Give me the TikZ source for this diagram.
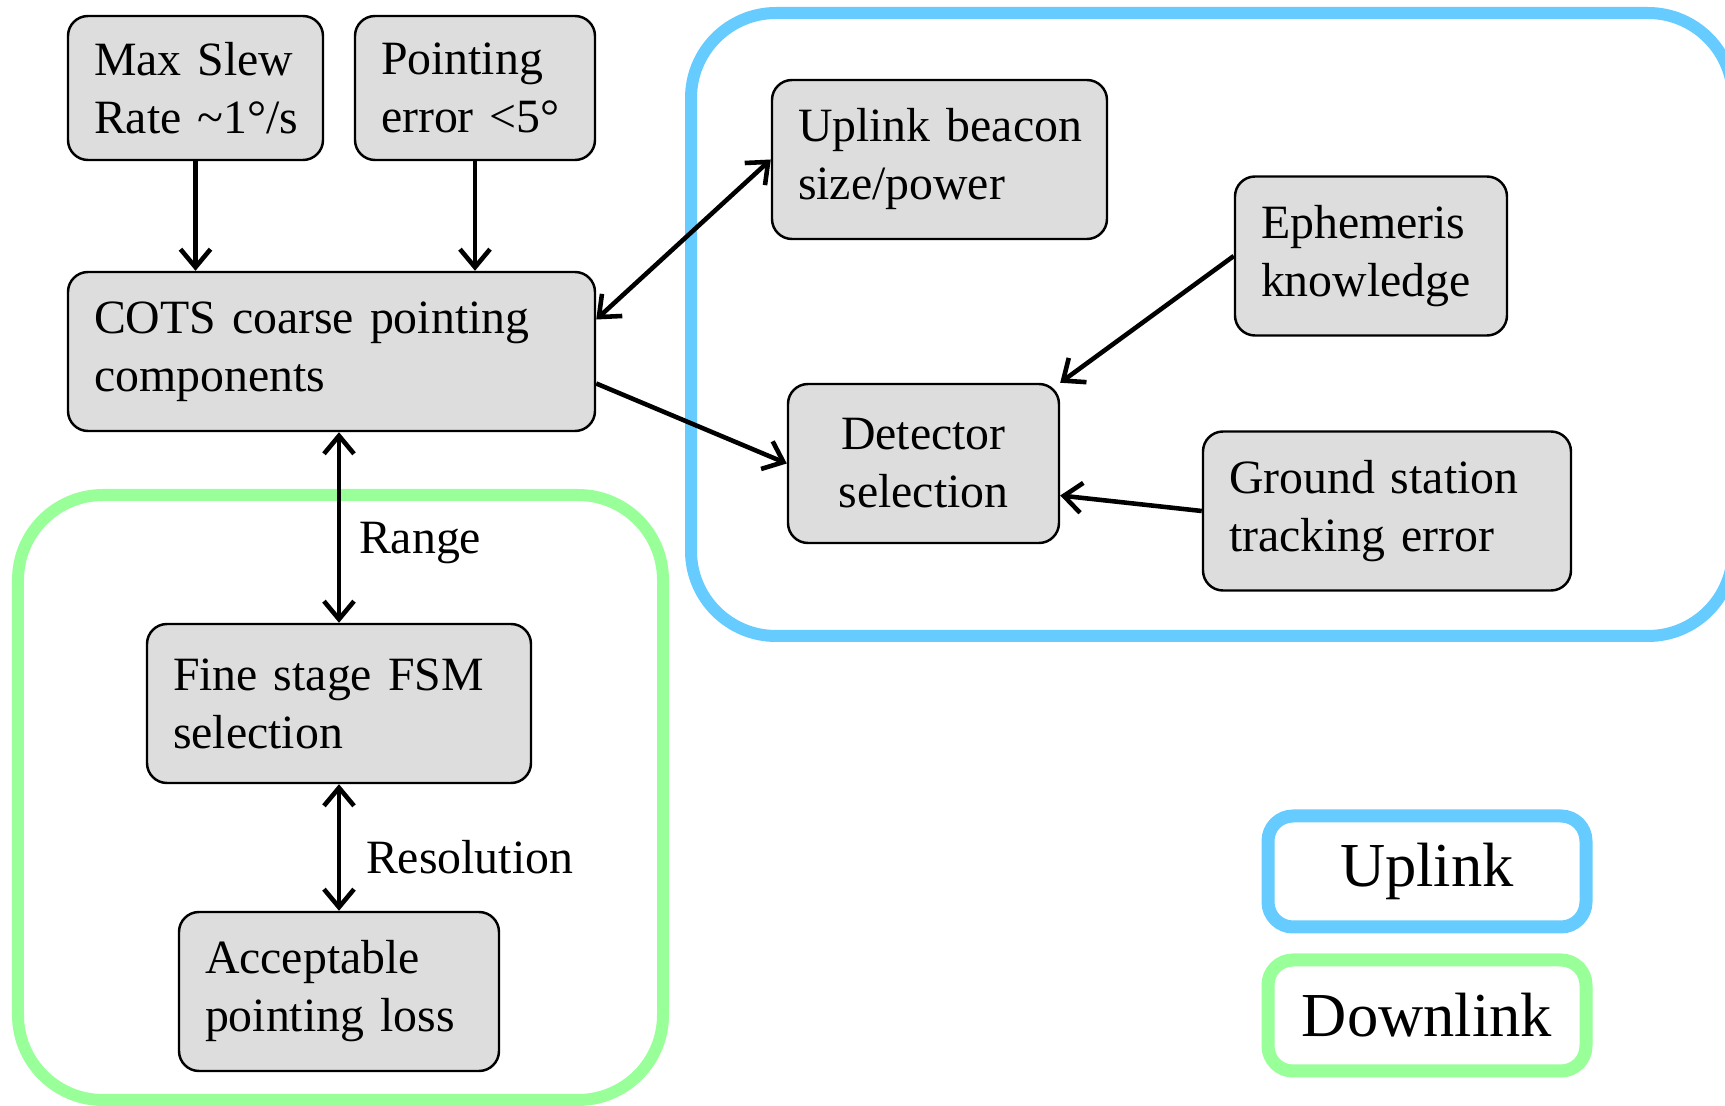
\documentclass[tikz,border=0pt]{standalone}
\usepackage{fontspec}
\setmainfont{Liberation Serif}
\usetikzlibrary{arrows.meta, positioning, calc}

\definecolor{boxgray}{HTML}{DDDDDD}
\definecolor{upblue}{HTML}{66CCFF}
\definecolor{downgreen}{HTML}{99FF99}

\begin{document}
\begin{tikzpicture}[
    >={Straight Barb[length=0.18cm, width=0.3cm]},
    blk/.style={draw, rounded corners=0.2cm, fill=boxgray, line width=0.7pt, inner xsep=0.26cm, align=left, minimum height=1.59cm, font=\fontsize{13.6}{16.5}\selectfont},
    zone/.style={rounded corners=0.85cm, line width=0.12cm},
    key/.style={draw, rounded corners=0.25cm, line width=0.13cm, fill=white, minimum width=3.18cm, minimum height=1.11cm, font=\fontsize{17.8}{20}\selectfont},
    link/.style={line width=1.3pt},
    lbl/.style={font=\fontsize{13.6}{16.5}\selectfont}
  ]
  \useasboundingbox (0,0) rectangle (17.25,-11.06);

  % uplink / downlink areas
  \draw[zone, upblue] (6.91,-0.13) rectangle (17.33,-6.36);
  \draw[zone, downgreen] (0.18,-4.95) rectangle (6.63,-11.0);

  \node[blk, text width=2.03cm, minimum height=1.44cm] (slew) at (1.955,-0.88) {Max~Slew\\Rate~\textasciitilde1°/s};
  \node[blk, text width=1.88cm, minimum height=1.44cm] (perr) at (4.75,-0.88) {Pointing\\error~\textless5°};
  \node[blk, text width=4.75cm] (cots) at (3.315,-3.515) {COTS~coarse~pointing\\components};

  \node[blk, text width=2.83cm] (beacon) at (9.395,-1.595) {\mbox{Uplink beacon}\\size/power};
  \node[blk, text width=2.20cm] (ephem) at (13.71,-2.56) {Ephemeris\\knowledge};
  \node[blk, text width=2.19cm, align=center] (detect) at (9.235,-4.635) {Detector\\selection};
  \node[blk, text width=3.16cm] (ground) at (13.87,-5.11) {Ground~station\\tracking~error};

  \node[blk, text width=3.32cm] (fsm) at (3.39,-7.035) {Fine~stage~FSM\\selection};
  \node[blk, text width=2.68cm] (loss) at (3.39,-9.915) {Acceptable\\pointing~loss};

  % legend
  \node[key, draw=upblue] (upkey) at (14.27,-8.715) {Uplink};
  \node[key, draw=downgreen] (downkey) at (14.27,-10.155) {Downlink};

  \draw[->, link] (slew.south) -- (slew.south |- cots.north);
  \draw[->, link] (perr.south) -- (perr.south |- cots.north);
  \draw[<->, link] ($(cots.east)+(0,0.32)$) -- (beacon.west);
  \draw[->, link] ($(cots.east)+(0,-0.32)$) -- (detect.west);
  \draw[->, link] (ephem.west) -- (detect.north east);
  \draw[->, link] (ground.west) -- ($(detect.east)+(0,-0.32)$);
  \draw[<->, link] (fsm.north |- cots.south) -- (fsm.north)
    node[lbl, pos=0.58, right, xshift=0.06cm] {Range};
  \draw[<->, link] (fsm.south) -- (loss.north)
    node[lbl, pos=0.58, right, xshift=0.13cm] {Resolution};
\end{tikzpicture}
\end{document}
